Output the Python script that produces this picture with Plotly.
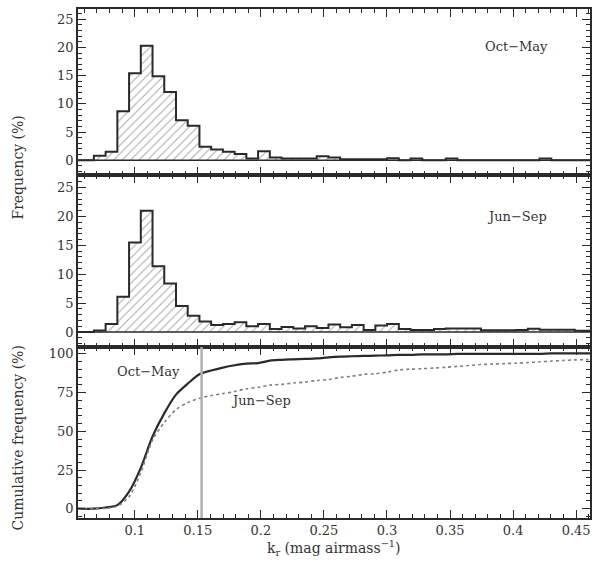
import numpy as np
import plotly.graph_objects as go

# ---- data ----
bin_start = 0.0676
bin_width = 0.0093
oct_may = [0.8, 1.5, 8.7, 15.4, 20.3, 14.9, 12.1, 7.1, 6.1, 2.4, 1.9, 1.5, 1.1, 0.3,
           1.6, 0.5, 0.3, 0.3, 0.3, 0.7, 0.5, 0.2, 0.2, 0.2, 0.2, 0.35, 0.0, 0.3,
           0.0, 0.0, 0.3, 0.0, 0.0, 0.0, 0.0, 0.0, 0.0, 0.0, 0.3, 0.0, 0.0, 0.0, 0.0]
jun_sep = [0.25, 1.4, 6.1, 15.5, 21.0, 11.4, 8.4, 4.5, 2.8, 1.8, 1.2, 1.4, 1.7, 1.0,
           1.4, 0.5, 0.85, 0.6, 1.0, 0.7, 1.3, 0.8, 1.2, 0.35, 1.1, 1.4, 0.5, 0.35,
           0.35, 0.5, 0.6, 0.6, 0.6, 0.3, 0.3, 0.3, 0.35, 0.55, 0.4, 0.4, 0.4, 0.2, 0.2]
cut_value = 0.153
x_ticks = [0.1, 0.15, 0.2, 0.25, 0.3, 0.35, 0.4, 0.45]
hist_yticks = [0, 5, 10, 15, 20, 25]
cum_yticks = [0, 25, 50, 75, 100]

n = len(oct_may)
edges = bin_start + bin_width * np.arange(n + 1)
lefts = edges[:-1]

XR = [0.055, 0.461]
FONT = "DejaVu Serif"
INK = "#2a2a2a"

fig = go.Figure()

def add_hist(vals, yref_id, xref_id):
    fig.add_trace(go.Bar(
        x=lefts, y=vals, width=bin_width, offset=0,
        marker=dict(color="white", line=dict(width=0),
                    pattern=dict(shape="/", fgcolor="#555555", bgcolor="white",
                                 size=6, solidity=0.18)),
        xaxis=xref_id, yaxis=yref_id, showlegend=False, hoverinfo="skip"))
    xs = list(edges)
    ys = list(vals) + [vals[-1]]
    fig.add_trace(go.Scatter(
        x=[XR[0]] + xs + [XR[1]], y=[0] + ys[:-1] + [0, 0],
        mode="lines", line=dict(color=INK, width=2, shape="hv"),
        xaxis=xref_id, yaxis=yref_id, showlegend=False, hoverinfo="skip"))
    fig.add_trace(go.Scatter(
        x=XR, y=[0, 0], mode="lines", line=dict(color=INK, width=1.5),
        xaxis=xref_id, yaxis=yref_id, showlegend=False, hoverinfo="skip"))

add_hist(oct_may, "y", "x")
add_hist(jun_sep, "y2", "x2")

cum_om = np.concatenate([[0], np.cumsum(oct_may)])
cum_js = np.concatenate([[0], np.cumsum(jun_sep)])
cx = [XR[0]] + list(edges)
fig.add_trace(go.Scatter(x=cx, y=[0] + list(cum_om), mode="lines",
                         line=dict(color=INK, width=2.2, shape="spline", smoothing=0.8),
                         xaxis="x3", yaxis="y3", showlegend=False))
fig.add_trace(go.Scatter(x=cx, y=[0] + list(cum_js), mode="lines",
                         line=dict(color="#808080", width=1.6, dash="dot", shape="spline", smoothing=0.8),
                         xaxis="x3", yaxis="y3", showlegend=False))
fig.add_trace(go.Scatter(x=[cut_value, cut_value], y=[-6, 104.5], mode="lines",
                         line=dict(color="#b0b0b0", width=2.5),
                         xaxis="x3", yaxis="y3", showlegend=False))

D3 = [0.0, 0.336]
D2 = [0.336, 0.674]
D1 = [0.674, 1.0]

def xaxis(anchor, labels):
    d = dict(range=XR, anchor=anchor, showgrid=False, zeroline=False,
             showline=True, linecolor=INK, linewidth=1.5, mirror="ticks",
             ticks="inside", ticklen=8, tickwidth=1.2, tickcolor=INK,
             tickvals=x_ticks, showticklabels=labels,
             tickfont=dict(family=FONT, size=13, color="#333"),
             minor=dict(ticks="inside", ticklen=4, dtick=0.01, tick0=0.0,
                        tickcolor=INK, tickwidth=1))
    if anchor != "y":
        d["matches"] = "x"
    return d

def yaxis(dom, anchor, rng, tv, mdt):
    return dict(domain=dom, anchor=anchor, range=rng, showgrid=False, zeroline=False,
                showline=True, linecolor=INK, linewidth=1.5, mirror="ticks",
                ticks="inside", ticklen=8, tickwidth=1.2, tickcolor=INK,
                tickvals=tv, tickfont=dict(family=FONT, size=13, color="#333"),
                minor=dict(ticks="inside", ticklen=4, dtick=mdt, tick0=0,
                           tickcolor=INK, tickwidth=1))

fig.update_layout(
    width=595, height=562,
    margin=dict(l=78, r=5, t=9, b=44, autoexpand=False),
    paper_bgcolor="white", plot_bgcolor="white",
    bargap=0,
    xaxis=xaxis("y", False),
    xaxis2=xaxis("y2", False),
    xaxis3=xaxis("y3", True),
    yaxis=yaxis(D1, "x", [-2.6, 26.8], hist_yticks, 1),
    yaxis2=yaxis(D2, "x2", [-2.6, 27.2], hist_yticks, 1),
    yaxis3=yaxis(D3, "x3", [-6, 104.5], cum_yticks, 5),
)

ann_font = dict(family=FONT, size=13, color="#333")
fig.add_annotation(x=0.403, y=20.1, xref="x", yref="y", text="Oct−May", showarrow=False, font=ann_font)
fig.add_annotation(x=0.403, y=20.0, xref="x2", yref="y2", text="Jun−Sep", showarrow=False, font=ann_font)
fig.add_annotation(x=0.111, y=88.5, xref="x3", yref="y3", text="Oct−May", showarrow=False, font=ann_font)
fig.add_annotation(x=0.2, y=70, xref="x3", yref="y3", text="Jun−Sep", showarrow=False, font=ann_font)

PH = 509.0  # plot-area height in px; plot bottom sits at page y=518
fig.add_annotation(x=0.5, y=(518 - 548) / PH, xref="paper", yref="paper",
                   xanchor="center", yanchor="middle",
                   text="k<sub>r</sub> (mag airmass<sup>−1</sup>)", showarrow=False,
                   font=dict(family=FONT, size=14, color="#333"))
fig.add_annotation(x=-0.118, y=(518 - 168) / PH, xref="paper", yref="paper",
                   xanchor="center", yanchor="middle",
                   text="Frequency (%)", textangle=-90, showarrow=False,
                   font=dict(family=FONT, size=14, color="#333"))
fig.add_annotation(x=-0.118, y=(518 - 438) / PH, xref="paper", yref="paper",
                   xanchor="center", yanchor="middle",
                   text="Cumulative frequency (%)", textangle=-90, showarrow=False,
                   font=dict(family=FONT, size=14, color="#333"))

# remove the default page margin so the 595x562 figure fills the window exactly
fig.write_html("out.html",
               config={"displayModeBar": False},
               post_script="document.body.style.margin='0';"
                           "document.body.style.overflow='hidden';")
